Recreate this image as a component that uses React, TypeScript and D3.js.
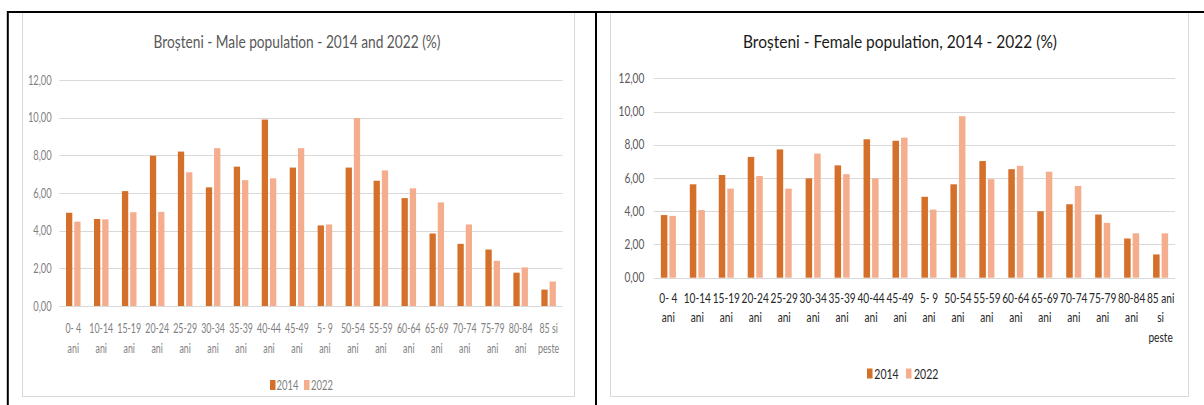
import React from "react";
import * as d3 from "d3";

// ---------- DATA ----------
const maleCategories: string[][] = [
  ["0- 4", "ani"], ["10-14", "ani"], ["15-19", "ani"], ["20-24", "ani"], ["25-29", "ani"],
  ["30-34", "ani"], ["35-39", "ani"], ["40-44", "ani"], ["45-49", "ani"], ["5- 9", "ani"],
  ["50-54", "ani"], ["55-59", "ani"], ["60-64", "ani"], ["65-69", "ani"], ["70-74", "ani"],
  ["75-79", "ani"], ["80-84", "ani"], ["85 si", "peste"],
];
const femaleCategories: string[][] = [
  ["0- 4", "ani"], ["10-14", "ani"], ["15-19", "ani"], ["20-24", "ani"], ["25-29", "ani"],
  ["30-34", "ani"], ["35-39", "ani"], ["40-44", "ani"], ["45-49", "ani"], ["5- 9", "ani"],
  ["50-54", "ani"], ["55-59", "ani"], ["60-64", "ani"], ["65-69", "ani"], ["70-74", "ani"],
  ["75-79", "ani"], ["80-84", "ani"], ["85 ani", "si", "peste"],
];
const seriesNames = ["2014", "2022"];
const male2014 = [4.95, 4.62, 6.1, 7.98, 8.2, 6.3, 7.4, 9.9, 7.35, 4.28, 7.35, 6.65, 5.73, 3.85, 3.3, 3.0, 1.77, 0.87];
const male2022 = [4.48, 4.6, 4.98, 5.0, 7.1, 8.38, 6.68, 6.78, 8.38, 4.33, 9.98, 7.2, 6.25, 5.5, 4.33, 2.4, 2.05, 1.3];
const female2014 = [3.77, 5.62, 6.18, 7.27, 7.72, 5.98, 6.76, 8.33, 8.24, 4.87, 5.62, 7.02, 6.53, 4.0, 4.42, 3.8, 2.36, 1.4];
const female2022 = [3.72, 4.07, 5.36, 6.12, 5.36, 7.47, 6.23, 5.98, 8.43, 4.1, 9.72, 5.93, 6.73, 6.38, 5.52, 3.3, 2.67, 2.67];
const yTicks = [0, 2, 4, 6, 8, 10, 12];
const maleTitle = "Broșteni - Male population - 2014 and 2022 (%)";
const femaleTitle = "Broșteni - Female population, 2014 - 2022 (%)";

// ---------- STYLE ----------
const COLORS = ["#D5702B", "#F4AE8E"];
const FONT = "Lato, 'Open Sans', sans-serif";
const fmt = (v: number) => d3.format(".2f")(v).replace(".", ",");

type Layout = {
  frame: [number, number, number, number];
  x0: number; x1: number; yZero: number; yTop: number;
  tickRight: number; labelY: number; labelPitch: number;
  title: { cx: number; y: number; w: number; color: string };
  tickColor: string; labelColor: string; legendColor: string;
  kTick: number; kLabel: number; kLegend: number; labelSize: number;
  legend: { y: number; sq: number[]; tx: number[]; sqW: number };
};

function T(props: any) {
  const { x, y, k, anchor = "start", children, ...rest } = props;
  return (
    <text transform={`translate(${x},${y}) scale(${k},1)`} textAnchor={anchor} fontFamily={FONT} {...rest}>
      {children}
    </text>
  );
}

function Panel({ L, cats, s1, s2, title }: { L: Layout; cats: string[][]; s1: number[]; s2: number[]; title: string }) {
  const x = d3.scaleBand<number>().domain(d3.range(cats.length)).range([L.x0, L.x1]).padding(0);
  const y = d3.scaleLinear().domain([0, 12]).range([L.yZero, L.yTop]);
  const step = x.bandwidth();
  const bw = step * 0.225;
  const gap = step * 0.07;
  const inner = d3.scaleBand<string>().domain(seriesNames)
    .range([-(bw + gap / 2), bw + gap / 2]).paddingInner(gap / (bw + gap)).paddingOuter(0);
  const series = [s1, s2];
  return (
    <g>
      <rect x={L.frame[0]} y={L.frame[1]} width={L.frame[2] - L.frame[0]} height={L.frame[3] - L.frame[1]}
        fill="#fff" stroke="#D9D9D9" strokeWidth={1} />
      <text x={L.title.cx} y={L.title.y} textAnchor="middle" fontFamily={FONT} fontSize={18}
        fill={L.title.color} textLength={L.title.w} lengthAdjust="spacingAndGlyphs">{title}</text>
      {yTicks.map((t) => (
        <g key={t}>
          <line x1={L.x0} x2={L.x1} y1={Math.round(y(t)) + 0.5} y2={Math.round(y(t)) + 0.5} stroke="#D9D9D9" strokeWidth={1} />
          <T x={L.tickRight} y={y(t) + 4.5} k={L.kTick} anchor="end" fontSize={13} fill={L.tickColor}>{fmt(t)}</T>
        </g>
      ))}
      {series.map((vals, si) => (
        <g key={si} fill={COLORS[si]}>
          {vals.map((v, i) => {
            const cx = (x(i) as number) + step / 2;
            return <rect key={i} x={cx + (inner(seriesNames[si]) as number)} y={y(v)} width={inner.bandwidth()} height={y(0) - y(v)} />;
          })}
        </g>
      ))}
      {cats.map((lines, i) => (
        <g key={i}>
          {lines.map((ln, j) => (
            <T key={j} x={(x(i) as number) + step / 2} y={L.labelY + j * L.labelPitch} k={L.kLabel} anchor="middle"
              fontSize={L.labelSize} fill={L.labelColor}>{ln}</T>
          ))}
        </g>
      ))}
      {seriesNames.map((n, si) => (
        <g key={n}>
          <rect x={L.legend.sq[si]} y={L.legend.y - 10} width={L.legend.sqW} height={10} fill={COLORS[si]} />
          <T x={L.legend.tx[si]} y={L.legend.y} k={L.kLegend} fontSize={13.5} fill={L.legendColor}>{n}</T>
        </g>
      ))}
    </g>
  );
}

const leftLayout: Layout = {
  frame: [22.5, 12, 574.5, 396.5],
  x0: 59.3, x1: 562.6, yZero: 306, yTop: 80,
  tickRight: 51.7, labelY: 332.7, labelPitch: 20,
  title: { cx: 297, y: 47.5, w: 287, color: "#595959" },
  tickColor: "#7F7F7F", labelColor: "#7F7F7F", legendColor: "#7F7F7F",
  kTick: 0.72, kLabel: 0.68, kLegend: 0.7, labelSize: 13,
  legend: { y: 390, sq: [270, 304], tx: [276.5, 311], sqW: 5.5 },
};
const rightLayout: Layout = {
  frame: [610.5, 12, 1188.5, 396.5],
  x0: 653.9, x1: 1175.1, yZero: 277.7, yTop: 78.3,
  tickRight: 644.3, labelY: 302.7, labelPitch: 19.7,
  title: { cx: 900, y: 48.3, w: 314, color: "#1A1A1A" },
  tickColor: "#595959", labelColor: "#262626", legendColor: "#262626",
  kTick: 0.78, kLabel: 0.78, kLegend: 0.78, labelSize: 13,
  legend: { y: 378.5, sq: [867, 906], tx: [874.3, 914], sqW: 5.5 },
};

export default function App() {
  return (
    <svg width={1204} height={405} style={{ position: "absolute", left: 0, top: 0, background: "#fff" }}>
      <rect x={0} y={0} width={1204} height={405} fill="#fff" />
      <Panel L={leftLayout} cats={maleCategories} s1={male2014} s2={male2022} title={maleTitle} />
      <Panel L={rightLayout} cats={femaleCategories} s1={female2014} s2={female2022} title={femaleTitle} />
      <line x1={7} x2={1204} y1={12} y2={12} stroke="#000" strokeWidth={2} />
      <line x1={7.8} x2={7.8} y1={11} y2={405} stroke="#000" strokeWidth={2} />
      <line x1={596} x2={596} y1={11} y2={405} stroke="#000" strokeWidth={2} />
    </svg>
  );
}
